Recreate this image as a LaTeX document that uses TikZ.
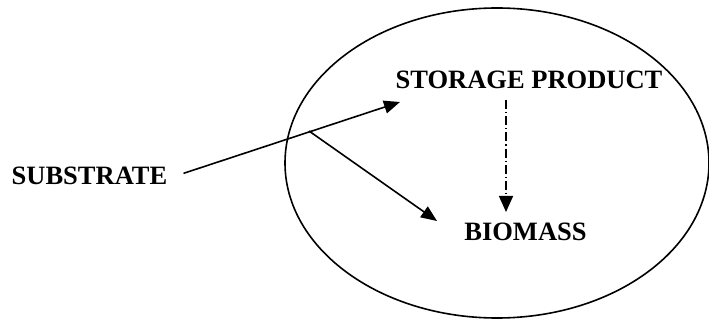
\documentclass[tikz,border=0pt]{standalone}
\usepackage{fontspec}
\setmainfont{Liberation Serif}
\usetikzlibrary{arrows.meta,shapes.geometric}
\tikzset{
  label text/.style={font=\bfseries\fontsize{26.5}{30}\selectfont, inner sep=0pt, anchor=base},
  flow/.style={line width=1.6pt, -{Triangle[length=16pt,width=13pt]}},
  conversion/.style={line width=1.5pt, dash pattern=on 9pt off 3pt on 1.2pt off 3pt,
                     -{Triangle[length=16pt,width=14pt]}},
  cell/.style={draw, ellipse, line width=1.6pt, inner sep=0pt,
               minimum width=424pt, minimum height=310pt}
}
\begin{document}
\begin{tikzpicture}[x=1pt,y=-1pt]
  \useasboundingbox (0,0) rectangle (709,320);

  % cell boundary
  \node[cell] (cellwall) at (497,163) {};

  % labels
  \node[label text] (sub) at (89.5,185) {SUBSTRATE};
  \node[label text] (store) at (529,89) {STORAGE PRODUCT};
  \node[label text] (bio) at (525.5,241) {BIOMASS};

  % connector end points
  \coordinate (uptakeStart) at ([xshift=16pt,yshift=3pt]sub.east);
  \coordinate (uptakeEnd) at (400,102);
  \coordinate (branch) at (309,131);
  \coordinate (growthEnd) at (437,221);
  \coordinate (storeOut) at (506,100);
  \coordinate (bioIn) at (506,212);

  % substrate uptake into storage, direct growth and storage conversion
  \draw[flow] (uptakeStart) -- (uptakeEnd);
  \draw[flow] (branch) -- (growthEnd);
  \draw[conversion] (storeOut) -- (bioIn);
\end{tikzpicture}
\end{document}
